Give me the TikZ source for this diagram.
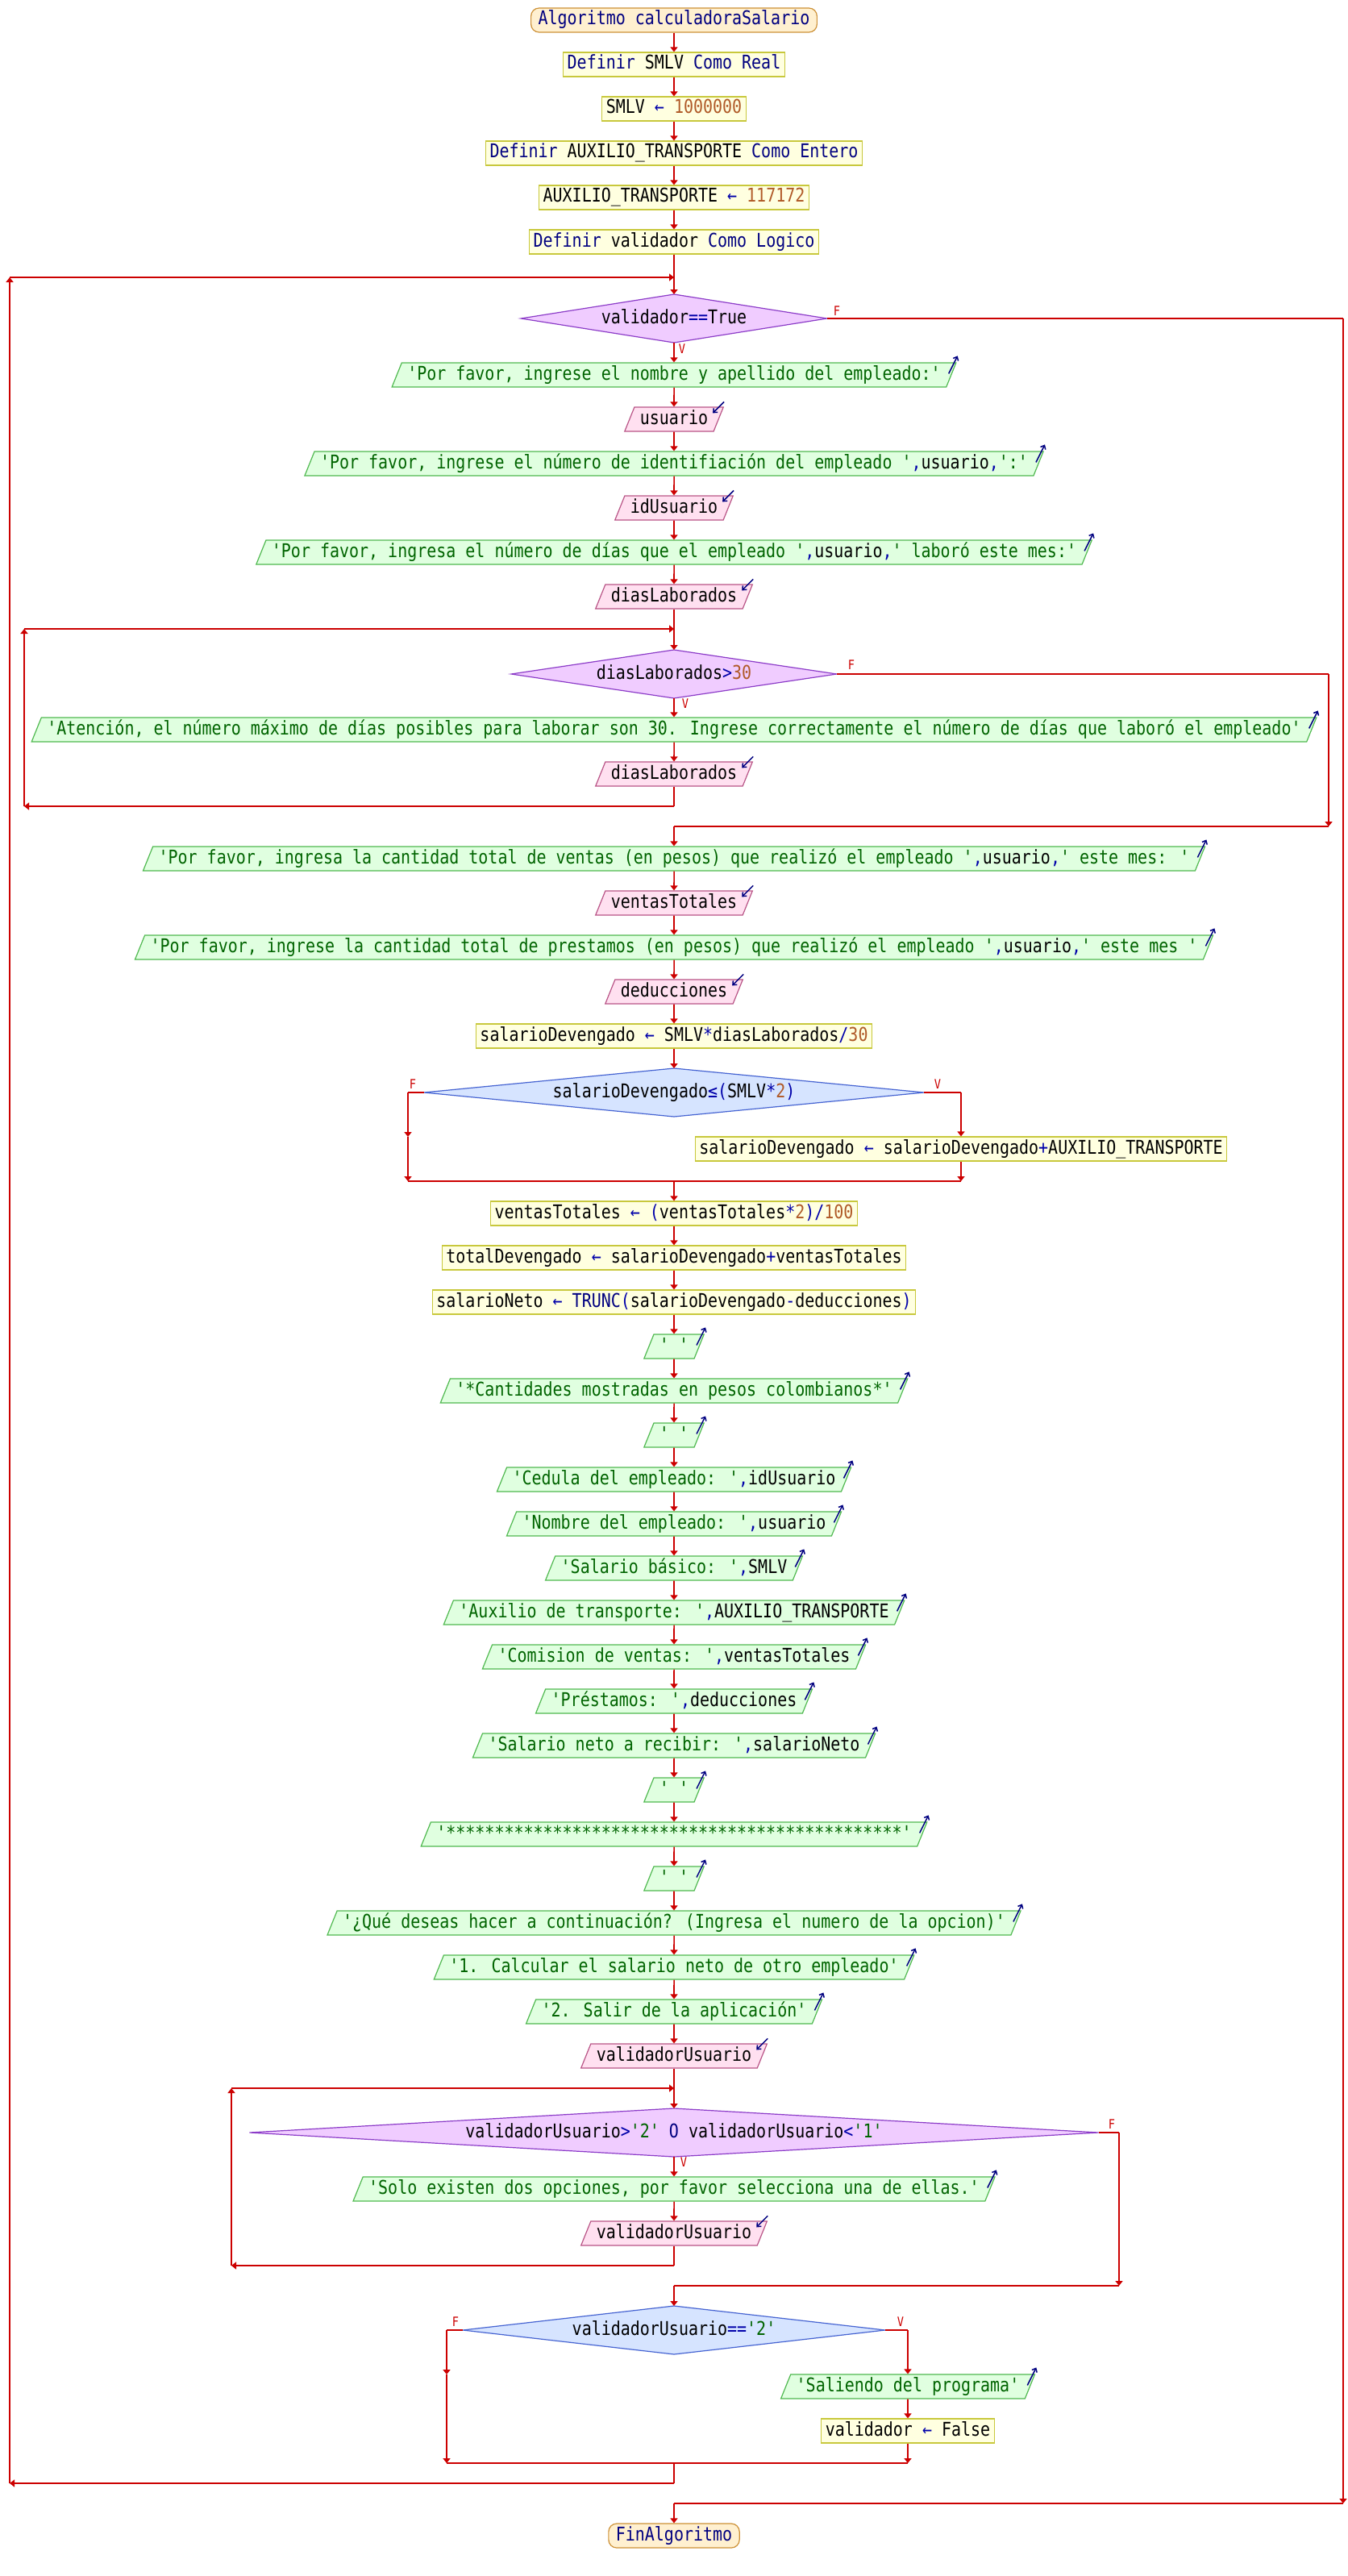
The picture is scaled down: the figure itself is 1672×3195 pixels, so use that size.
\documentclass[tikz,border=0pt]{standalone}
\usepackage{fontspec}
\newfontfamily\pf[FakeStretch=0.85,Ligatures=TeXOff]{DejaVu Sans Mono}
\usetikzlibrary{shapes.geometric,arrows.meta,calc}
\pgfdeclarelayer{bg}
\pgfsetlayers{bg,main}

\definecolor{lnc}{RGB}{204,0,0}
\definecolor{kwc}{RGB}{0,0,128}
\definecolor{opc}{RGB}{0,0,170}
\definecolor{strc}{RGB}{0,100,0}
\definecolor{numc}{RGB}{176,90,40}
\definecolor{asgF}{RGB}{255,255,224}
\definecolor{asgB}{RGB}{200,200,60}
\definecolor{outF}{RGB}{224,255,224}
\definecolor{outB}{RGB}{80,185,80}
\definecolor{inF}{RGB}{255,224,240}
\definecolor{inB}{RGB}{185,85,135}
\definecolor{whF}{RGB}{240,204,255}
\definecolor{whB}{RGB}{140,60,200}
\definecolor{ifF}{RGB}{214,228,255}
\definecolor{ifB}{RGB}{70,100,210}
\definecolor{seF}{RGB}{255,240,208}
\definecolor{seB}{RGB}{205,145,55}

\newcommand\ckw[1]{\textcolor{kwc}{#1}}
\newcommand\cop[1]{\textcolor{opc}{#1}}
\newcommand\cst[1]{\textcolor{strc}{#1}}
\newcommand\cnm[1]{\textcolor{numc}{#1}}

\tikzset{
  txt/.style={font={\fontsize{23.5pt}{28pt}\pf}, text height=17pt, text depth=5pt, inner ysep=4pt},
  asg/.style={txt, draw=asgB, fill=asgF, line width=1.2pt, inner xsep=5pt, minimum height=30pt},
  termbox/.style={txt, draw=seB, fill=seF, line width=1.2pt, inner xsep=9pt, minimum height=30pt, rounded corners=10pt},
  para/.style={txt, trapezium, trapezium left angle=68, trapezium right angle=112,
    trapezium stretches body, line width=1.2pt, inner xsep=7pt, minimum height=30pt},
  outp/.style={para, draw=outB, fill=outF},
  inp/.style={para, draw=inB, fill=inF},
  dtext/.style={txt, inner xsep=0pt},
  whd/.style={draw=whB, fill=whF, line width=1.2pt},
  ifd/.style={draw=ifB, fill=ifF, line width=1.2pt},
  lab/.style={font={\fontsize{16pt}{16pt}\pf}, text=lnc, inner sep=0pt, anchor=base},
  ln/.style={draw=lnc, line width=1.6pt},
  hl/.style={draw=lnc, line width=2.2pt},
  arr/.style={ln, -{Triangle[length=6pt,width=9pt]}},
  harr/.style={hl, -{Triangle[length=6pt,width=9pt]}},
  icon/.style={draw=kwc, line width=1.5pt, -{Straight Barb[length=4pt,width=7pt]}},
}

% condition box: text node plus a diamond drawn behind it, twice as wide as the text
\newcommand\decision[4]{%
  \node[dtext] (#1) at (836,#2) {#4};
  \coordinate (#1-l) at ($(#1.west)!-0.5!(#1.east)+(-9,0)$);
  \coordinate (#1-r) at ($(#1.east)!-0.5!(#1.west)+(9,0)$);
  \coordinate (#1-t) at ($(#1.center)+(0,-30)$);
  \coordinate (#1-b) at ($(#1.center)+(0,30)$);
  \begin{pgfonlayer}{bg}
    \draw[#3] (#1-l) -- (#1-t) -- (#1-r) -- (#1-b) -- cycle;
  \end{pgfonlayer}}
\newcommand\outicon[1]{\draw[icon] ($(#1.top right corner)+(-10,14)$) -- ++(11,-22);}
\newcommand\inicon[1]{\draw[icon] ($(#1.top right corner)+(0,-6)$) -- ++(-14,14);}

\begin{document}
\begin{tikzpicture}[x=1pt,y=-1pt]
\begin{pgfonlayer}{bg}
  \fill[white] (0,0) rectangle (1672,3195);
\end{pgfonlayer}
\useasboundingbox (0,0) rectangle (1672,3195);

% declarations
\node[termbox] (start) at (836,25) {\ckw{Algoritmo calculadoraSalario}};
\node[asg] (def1) at (836,80) {\ckw{Definir} SMLV \ckw{Como Real}};
\node[asg] (smlv) at (836,135) {SMLV \cop{←} \cnm{1000000}};
\node[asg] (def2) at (836,190) {\ckw{Definir} AUXILIO\_TRANSPORTE \ckw{Como Entero}};
\node[asg] (aux) at (836,245) {AUXILIO\_TRANSPORTE \cop{←} \cnm{117172}};
\node[asg] (def3) at (836,300) {\ckw{Definir} validador \ckw{Como Logico}};

% main loop
\decision{w1}{395}{whd}{validador\cop{==}True}
\node[outp] (o1) at (836,465) {\cst{'Por favor, ingrese el nombre y apellido del empleado:'}};
\node[inp] (i1) at (836,520) {usuario};
\node[outp] (o2) at (836,575) {\cst{'Por favor, ingrese el número de identifiación del empleado '}\cop{,}usuario\cop{,}\cst{':'}};
\node[inp] (i2) at (836,630) {idUsuario};
\node[outp] (o3) at (836,685) {\cst{'Por favor, ingresa el número de días que el empleado '}\cop{,}usuario\cop{,}\cst{' laboró este mes:'}};
\node[inp] (i3) at (836,740) {diasLaborados};

\decision{w2}{836}{whd}{diasLaborados\cop{>}\cnm{30}}
\node[outp] (o4) at (836,905) {\cst{'Atención, el número máximo de días posibles para laborar son 30. Ingrese correctamente el número de días que laboró el empleado'}};
\node[inp] (i4) at (836,960) {diasLaborados};

\node[outp] (o5) at (836,1065) {\cst{'Por favor, ingresa la cantidad total de ventas (en pesos) que realizó el empleado '}\cop{,}usuario\cop{,}\cst{' este mes: '}};
\node[inp] (i5) at (836,1120) {ventasTotales};
\node[outp] (o6) at (836,1175) {\cst{'Por favor, ingrese la cantidad total de prestamos (en pesos) que realizó el empleado '}\cop{,}usuario\cop{,}\cst{' este mes '}};
\node[inp] (i6) at (836,1230) {deducciones};
\node[asg] (a1) at (836,1285) {salarioDevengado \cop{←} SMLV\cop{*}diasLaborados\cop{/}\cnm{30}};

\decision{c1}{1355}{ifd}{salarioDevengado\cop{≤(}SMLV\cop{*}\cnm{2}\cop{)}}
\node[asg] (a2) at (1192,1425) {salarioDevengado \cop{←} salarioDevengado\cop{+}AUXILIO\_TRANSPORTE};

\node[asg] (a3) at (836,1505) {ventasTotales \cop{←} \cop{(}ventasTotales\cop{*}\cnm{2}\cop{)/}\cnm{100}};
\node[asg] (a4) at (836,1560) {totalDevengado \cop{←} salarioDevengado\cop{+}ventasTotales};
\node[asg] (a5) at (836,1615) {salarioNeto \cop{←} \ckw{TRUNC}\cop{(}salarioDevengado\cop{-}deducciones\cop{)}};
\node[outp] (o7) at (836,1670) {\cst{' '}};
\node[outp] (o8) at (836,1725) {\cst{'*Cantidades mostradas en pesos colombianos*'}};
\node[outp] (o9) at (836,1780) {\cst{' '}};
\node[outp] (o10) at (836,1835) {\cst{'Cedula del empleado: '}\cop{,}idUsuario};
\node[outp] (o11) at (836,1890) {\cst{'Nombre del empleado: '}\cop{,}usuario};
\node[outp] (o12) at (836,1945) {\cst{'Salario básico: '}\cop{,}SMLV};
\node[outp] (o13) at (836,2000) {\cst{'Auxilio de transporte: '}\cop{,}AUXILIO\_TRANSPORTE};
\node[outp] (o14) at (836,2055) {\cst{'Comision de ventas: '}\cop{,}ventasTotales};
\node[outp] (o15) at (836,2110) {\cst{'Préstamos: '}\cop{,}deducciones};
\node[outp] (o16) at (836,2165) {\cst{'Salario neto a recibir: '}\cop{,}salarioNeto};
\node[outp] (o17) at (836,2220) {\cst{' '}};
\node[outp] (o18) at (836,2275) {\cst{'***********************************************'}};
\node[outp] (o19) at (836,2330) {\cst{' '}};
\node[outp] (o20) at (836,2385) {\cst{'¿Qué deseas hacer a continuación? (Ingresa el numero de la opcion)'}};
\node[outp] (o21) at (836,2440) {\cst{'1. Calcular el salario neto de otro empleado'}};
\node[outp] (o22) at (836,2495) {\cst{'2. Salir de la aplicación'}};
\node[inp] (i7) at (836,2550) {validadorUsuario};

\decision{w3}{2645}{whd}{validadorUsuario\cop{>}\cst{'2'} \ckw{O} validadorUsuario\cop{<}\cst{'1'}}
\node[outp] (o23) at (836,2715) {\cst{'Solo existen dos opciones, por favor selecciona una de ellas.'}};
\node[inp] (i8) at (836,2770) {validadorUsuario};

\decision{c2}{2890}{ifd}{validadorUsuario\cop{==}\cst{'2'}}
\node[outp] (o24) at (1126,2960) {\cst{'Saliendo del programa'}};
\node[asg] (a6) at (1126,3015) {validador \cop{←} False};

\node[termbox] (fin) at (836,3145) {\ckw{FinAlgoritmo}};

% branch labels
\node[lab] (w1F) at (1038,391) {F};
\node[lab] (w1V) at (846,438) {V};
\node[lab] (w2F) at (1056,830) {F};
\node[lab] (w2V) at (850,878) {V};
\node[lab] (c1F) at (512,1350) {F};
\node[lab] (c1V) at (1163,1350) {V};
\node[lab] (w3F) at (1379,2640) {F};
\node[lab] (w3V) at (848,2687) {V};
\node[lab] (c2F) at (565,2885) {F};
\node[lab] (c2V) at (1117,2885) {V};

% read / write markers
\foreach \n in {o1,o2,o3,o4,o5,o6,o7,o8,o9,o10,o11,o12,o13,o14,o15,o16,o17,o18,o19,o20,o21,o22,o23,o24}{\outicon{\n}}
\foreach \n in {i1,i2,i3,i4,i5,i6,i7,i8}{\inicon{\n}}

% routing points
\coordinate (jo) at (836,344);   \coordinate (olt) at (12,344);
\coordinate (olb) at (12,3080);  \coordinate (ob) at (836,3080);
\coordinate (ox1) at (1666,395); \coordinate (ox2) at (1666,3105); \coordinate (oj) at (836,3105);
\coordinate (ji) at (836,780);   \coordinate (ilt) at (30,780);
\coordinate (ilb) at (30,1000);  \coordinate (ib) at (836,1000);
\coordinate (ix1) at (1648,836); \coordinate (ix2) at (1648,1025); \coordinate (ij) at (836,1025);
\coordinate (c1lf) at (506,1355); \coordinate (c1lm) at (506,1410); \coordinate (c1lb) at (506,1465);
\coordinate (c1rf) at (1192,1355); \coordinate (c1rb) at (1192,1465); \coordinate (c1j) at (836,1465);
\coordinate (j3) at (836,2590);  \coordinate (l3t) at (287,2590);
\coordinate (l3b) at (287,2810); \coordinate (b3) at (836,2810);
\coordinate (x3a) at (1388,2645); \coordinate (x3b) at (1388,2835); \coordinate (j3x) at (836,2835);
\coordinate (c2lf) at (554,2890); \coordinate (c2lm) at (554,2945); \coordinate (c2lb) at (554,3055);
\coordinate (c2rf) at (1126,2890); \coordinate (c2rb) at (1126,3055); \coordinate (c2j) at (836,3055);

% connectors
\draw[arr] (start) -- (def1);
\draw[arr] (def1) -- (smlv);
\draw[arr] (smlv) -- (def2);
\draw[arr] (def2) -- (aux);
\draw[arr] (aux) -- (def3);
\draw[arr] (def3) -- (w1-t);
\draw[arr] (w1-b) -- (o1);
\draw[arr] (o1) -- (i1);
\draw[arr] (i1) -- (o2);
\draw[arr] (o2) -- (i2);
\draw[arr] (i2) -- (o3);
\draw[arr] (o3) -- (i3);
\draw[arr] (i3) -- (w2-t);
\draw[arr] (w2-b) -- (o4);
\draw[arr] (o4) -- (i4);
\draw[ln] (i4) -- (ib);
\draw[harr] (ib) -- (ilb);
\draw[arr] (ilb) -- (ilt);
\draw[harr] (ilt) -- (ji);
\draw[hl] (w2-r) -- (ix1);
\draw[arr] (ix1) -- (ix2);
\draw[hl] (ix2) -- (ij);
\draw[arr] (ij) -- (o5);
\draw[arr] (o5) -- (i5);
\draw[arr] (i5) -- (o6);
\draw[arr] (o6) -- (i6);
\draw[arr] (i6) -- (a1);
\draw[arr] (a1) -- (c1-t);
\draw[hl] (c1-l) -- (c1lf);
\draw[arr] (c1lf) -- (c1lm);
\draw[arr] (c1lm) -- (c1lb);
\draw[hl] (c1-r) -- (c1rf);
\draw[arr] (c1rf) -- (a2);
\draw[arr] (a2) -- (c1rb);
\draw[hl] (c1lb) -- (c1rb);
\draw[arr] (c1j) -- (a3);
\draw[arr] (a3) -- (a4);
\draw[arr] (a4) -- (a5);
\draw[arr] (a5) -- (o7);
\draw[arr] (o7) -- (o8);
\draw[arr] (o8) -- (o9);
\draw[arr] (o9) -- (o10);
\draw[arr] (o10) -- (o11);
\draw[arr] (o11) -- (o12);
\draw[arr] (o12) -- (o13);
\draw[arr] (o13) -- (o14);
\draw[arr] (o14) -- (o15);
\draw[arr] (o15) -- (o16);
\draw[arr] (o16) -- (o17);
\draw[arr] (o17) -- (o18);
\draw[arr] (o18) -- (o19);
\draw[arr] (o19) -- (o20);
\draw[arr] (o20) -- (o21);
\draw[arr] (o21) -- (o22);
\draw[arr] (o22) -- (i7);
\draw[arr] (i7) -- (w3-t);
\draw[arr] (w3-b) -- (o23);
\draw[arr] (o23) -- (i8);
\draw[ln] (i8) -- (b3);
\draw[harr] (b3) -- (l3b);
\draw[arr] (l3b) -- (l3t);
\draw[harr] (l3t) -- (j3);
\draw[hl] (w3-r) -- (x3a);
\draw[arr] (x3a) -- (x3b);
\draw[hl] (x3b) -- (j3x);
\draw[arr] (j3x) -- (c2-t);
\draw[hl] (c2-l) -- (c2lf);
\draw[arr] (c2lf) -- (c2lm);
\draw[arr] (c2lm) -- (c2lb);
\draw[hl] (c2-r) -- (c2rf);
\draw[arr] (c2rf) -- (o24);
\draw[arr] (o24) -- (a6);
\draw[arr] (a6) -- (c2rb);
\draw[hl] (c2lb) -- (c2rb);
\draw[ln] (c2j) -- (ob);
\draw[harr] (ob) -- (olb);
\draw[arr] (olb) -- (olt);
\draw[harr] (olt) -- (jo);
\draw[hl] (w1-r) -- (ox1);
\draw[arr] (ox1) -- (ox2);
\draw[hl] (ox2) -- (oj);
\draw[arr] (oj) -- (fin);
\end{tikzpicture}
\end{document}
